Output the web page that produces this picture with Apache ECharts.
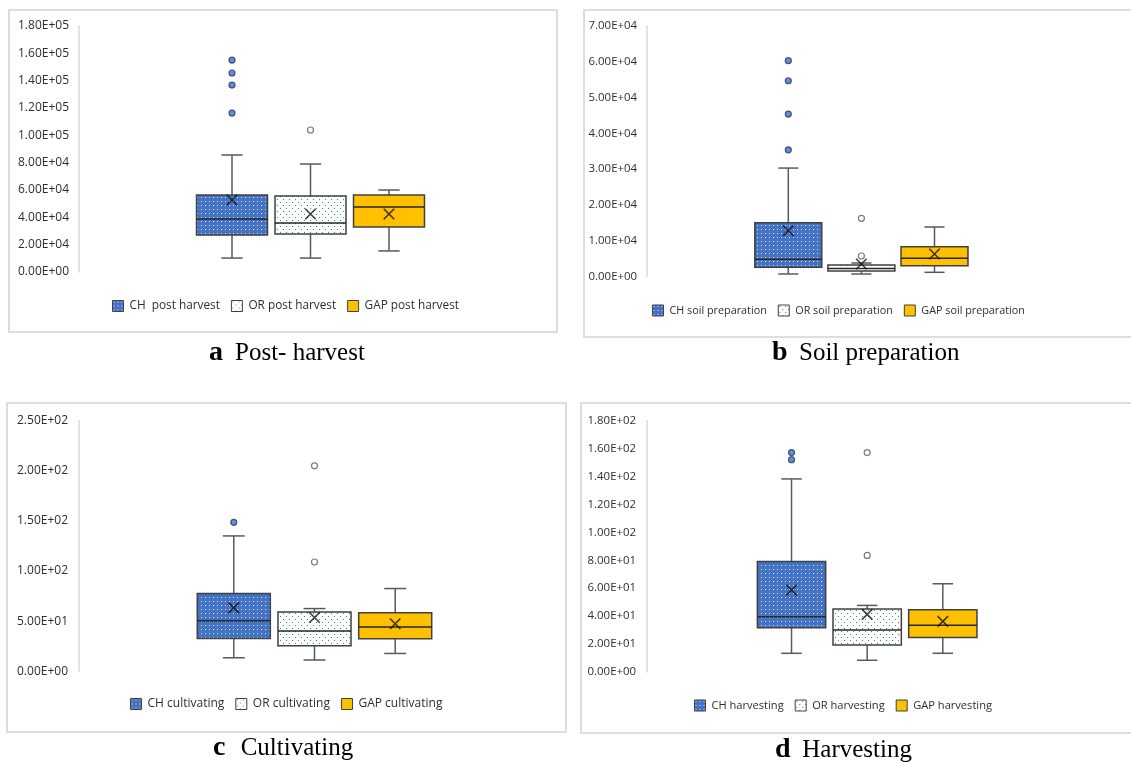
<!DOCTYPE html>
<html><head><meta charset="utf-8">
<script src="https://cdn.jsdelivr.net/npm/echarts@6/dist/echarts.min.js"></script>
<style>html,body{margin:0;padding:0;background:#fff;}#c{width:1131px;height:762px;}</style>
</head><body><div id="c"></div>
<script>
// ---------------- data ----------------
const groups = ['CH', 'OR', 'GAP'];

// a  Post-harvest   box rows: [min, Q1, median, Q3, max]
const legendA = ['CH  post harvest', 'OR post harvest', 'GAP post harvest'];
const boxA = [
  [10200, 27100, 38800, 56300, 85600],
  [10200, 27800, 35800, 55600, 79000],
  [15400, 32900, 47600, 56300, 60000]
];
const meanA = [52700, 42400, 42400];
const outA = [[155100, 145600, 136800, 116300], [103900], []];
const axisA = [180000, 20000]; // [max, interval]

// b  Soil preparation
const legendB = ['CH soil preparation', 'OR soil preparation', 'GAP soil preparation'];
const boxB = [
  [700, 2570, 4800, 15030, 30300],
  [700, 1540, 2240, 3210, 3770],
  [1170, 3020, 5090, 8330, 13830]
];
const meanB = [12800, 3490, 6290];
const outB = [[60300, 54700, 45400, 35400], [16260, 5730], []];
const axisB = [70000, 10000];

// c  Cultivating
const legendC = ['CH cultivating', 'OR cultivating', 'GAP cultivating'];
const boxC = [
  [13.4, 32.7, 50.3, 77.5, 135],
  [11.2, 25.4, 40, 59, 62.5],
  [17.7, 32.4, 44, 58.3, 82.5]
];
const meanC = [63.2, 53.6, 47.3];
const outC = [[148.6], [205, 109], []];
const axisC = [250, 50];

// d  Harvesting
const legendD = ['CH harvesting', 'OR harvesting', 'GAP harvesting'];
const boxD = [
  [13.4, 31.7, 39.6, 79.2, 138.3],
  [8.4, 19.3, 30, 45.1, 47.7],
  [13.4, 24.8, 33.4, 44.6, 63.2]
];
const meanD = [58.7, 41.3, 36.3];
const outD = [[157.2, 152.1], [157.2, 83.5], []];
const axisD = [180, 20];

const captionLetters = ['a', 'b', 'c', 'd'];
const captionTexts = ['Post- harvest', 'Soil preparation', 'Cultivating', 'Harvesting'];

// ---------------- layout / style ----------------
const panels = [
  {legend: legendA, box: boxA, mean: meanA, out: outA, axis: axisA,
   grid: {left: 192.75, top: 26, width: 235.5, height: 246}, offset: 113.75, margin: 10, fs: 12, lfs: 11.8, ratio: 0.904,
   lg: {left: 112, top: 300}, frame: [9, 10, 548, 322], cap: {lx: 209, tx: 235, ly: 352.3, ty: 353.3}},
  {legend: legendB, box: boxB, mean: meanB, out: outB, axis: axisB,
   grid: {left: 751.75, top: 26, width: 219.3, height: 250.5}, offset: 104.75, margin: 10, fs: 11.4, lfs: 10.8, ratio: 0.916,
   lg: {left: 652, top: 304.5}, frame: [584, 10, 560, 327], cap: {lx: 772, tx: 799, ly: 352.5, ty: 353.5}},
  {legend: legendC, box: boxC, mean: meanC, out: outC, axis: axisC,
   grid: {left: 193.45, top: 420.7, width: 242.1, height: 250.5}, offset: 114.45, margin: 11, fs: 12, lfs: 12, ratio: 0.905,
   lg: {left: 130, top: 698}, frame: [7, 403, 559, 329], cap: {lx: 213, tx: 240.7, ly: 747.5, ty: 748.5}},
  {legend: legendD, box: boxD, mean: meanD, out: outD, axis: axisD,
   grid: {left: 753.7, top: 420.7, width: 226.95, height: 251.3}, offset: 107, margin: 10.7, fs: 11.4, lfs: 11.1, ratio: 0.903,
   lg: {left: 694, top: 699.5}, frame: [581, 403, 560, 330], cap: {lx: 775, tx: 802.3, ly: 749.5, ty: 750.5}}
];

function dotPattern(bg, dot, step, size, stagger) {
  const cv = document.createElement('canvas');
  cv.width = step * (stagger ? 2 : 1); cv.height = step * (stagger ? 2 : 1);
  const ctx = cv.getContext('2d');
  ctx.fillStyle = bg; ctx.fillRect(0, 0, cv.width, cv.height);
  ctx.fillStyle = dot;
  ctx.fillRect(1, 1, size, size);
  if (stagger) {
    ctx.fillRect(1 + step, 1 + step, size, size);
  }
  return {image: cv, repeat: 'repeat'};
}
const fills = [
  dotPattern('#4472C4', 'rgba(255,255,255,0.8)', 4, 1, false),
  dotPattern('#ffffff', '#22a24c', 3, 1, true),
  '#FFC000'
];
const outStyles = [
  {color: '#4472C4', borderColor: '#203864', borderWidth: 1.2},
  {color: '#ffffff', borderColor: '#595959', borderWidth: 1.2}
];

function sci(v) {
  const s = Number(v).toExponential(2);
  const parts = s.split('e');
  const sign = parts[1][0] === '-' ? '-' : '+';
  const d = parts[1].replace(/^[+-]/, '').padStart(2, '0');
  return parts[0] + 'E' + sign + d;
}

function makeRender(ratio, fill) {
  return function (params, api) {
    const c = api.value(0);
    const p = [1, 2, 3, 4, 5].map(function (i) { return api.coord([c, api.value(i)]); });
    const x = p[0][0];
    const bw = api.size([1, 0])[0] * ratio;
    const cap = bw * 0.3;
    const ws = {stroke: '#595959', lineWidth: 1.5};
    return {type: 'group', children: [
      {type: 'line', shape: {x1: x, y1: p[0][1], x2: x, y2: p[4][1]}, style: ws},
      {type: 'line', shape: {x1: x - cap / 2, y1: p[0][1], x2: x + cap / 2, y2: p[0][1]}, style: ws},
      {type: 'line', shape: {x1: x - cap / 2, y1: p[4][1], x2: x + cap / 2, y2: p[4][1]}, style: ws},
      {type: 'rect', shape: {x: x - bw / 2, y: p[3][1], width: bw, height: p[1][1] - p[3][1]},
       style: {fill: fill, stroke: '#404040', lineWidth: 1.5}},
      {type: 'line', shape: {x1: x - bw / 2, y1: p[2][1], x2: x + bw / 2, y2: p[2][1]},
       style: {stroke: '#262626', lineWidth: 1.5}}
    ]};
  };
}

const grid = [], xAxis = [], yAxis = [], series = [], legend = [], graphic = [];
panels.forEach(function (P, i) {
  grid.push(P.grid);
  xAxis.push({gridIndex: i, type: 'category', data: groups, show: false});
  yAxis.push({
    gridIndex: i, type: 'value', min: 0, max: P.axis[0], interval: P.axis[1], offset: P.offset,
    axisLine: {show: true, lineStyle: {color: '#d9d9d9', width: 1.5}},
    axisTick: {show: false}, splitLine: {show: false},
    axisLabel: {margin: P.margin, fontSize: P.fs, color: '#2e2e2e', fontFamily: 'Open Sans', formatter: sci}
  });
  P.box.forEach(function (b, g) {
    series.push({
      type: 'custom', name: P.legend[g], xAxisIndex: i, yAxisIndex: i,
      renderItem: makeRender(P.ratio, fills[g]),
      itemStyle: {color: fills[g], borderColor: '#404040', borderWidth: 1},
      encode: {x: 0, y: [1, 2, 3, 4, 5]},
      data: [[g].concat(b)], z: 2, silent: true
    });
  });
  P.out.forEach(function (vals, g) {
    if (!vals.length) return;
    series.push({
      type: 'scatter', name: 'outliers ' + i + '-' + g, xAxisIndex: i, yAxisIndex: i,
      symbol: 'circle', symbolSize: 6, itemStyle: outStyles[g], z: 4, silent: true,
      data: vals.map(function (v) { return [g, v]; })
    });
  });
  series.push({
    type: 'scatter', name: 'mean ' + i, xAxisIndex: i, yAxisIndex: i,
    symbol: 'path://M0,0L10,10M0,10L10,0', symbolSize: 10.5, z: 5, silent: true,
    itemStyle: {color: 'rgba(0,0,0,0)', borderColor: '#111111', borderWidth: 1.6},
    data: P.mean.map(function (v, g) { return [g, v]; })
  });
  legend.push({
    data: P.legend, left: P.lg.left, top: P.lg.top, padding: 0, orient: 'horizontal',
    icon: 'rect', itemWidth: 11, itemHeight: 11, itemGap: 11, selectedMode: false,
    itemStyle: {borderColor: '#404040', borderWidth: 1},
    textStyle: {fontFamily: 'Open Sans', fontSize: P.lfs, color: '#2e2e2e', padding: [0, 0, 0, 1]}
  });
  graphic.push({
    type: 'rect', z: -10, silent: true,
    shape: {x: P.frame[0], y: P.frame[1], width: P.frame[2], height: P.frame[3]},
    style: {fill: '#ffffff', stroke: '#d4d4d4', lineWidth: 1.6}
  });
  graphic.push({
    type: 'text', x: P.cap.lx, y: P.cap.ly, silent: true,
    style: {text: captionLetters[i], font: 'bold 28px "Liberation Serif"', fill: '#000',
            textAlign: 'left', align: 'left', textVerticalAlign: 'middle', verticalAlign: 'middle'}
  });
  graphic.push({
    type: 'text', x: P.cap.tx, y: P.cap.ty, silent: true,
    style: {text: captionTexts[i], font: '25px "Liberation Serif"', fill: '#000',
            textAlign: 'left', align: 'left', textVerticalAlign: 'middle', verticalAlign: 'middle'}
  });
});

const chart = echarts.init(document.getElementById('c'), null, {renderer: 'canvas'});
chart.setOption({
  animation: false,
  backgroundColor: '#ffffff',
  grid: grid, xAxis: xAxis, yAxis: yAxis, series: series, legend: legend, graphic: graphic
});
</script>
</body></html>
